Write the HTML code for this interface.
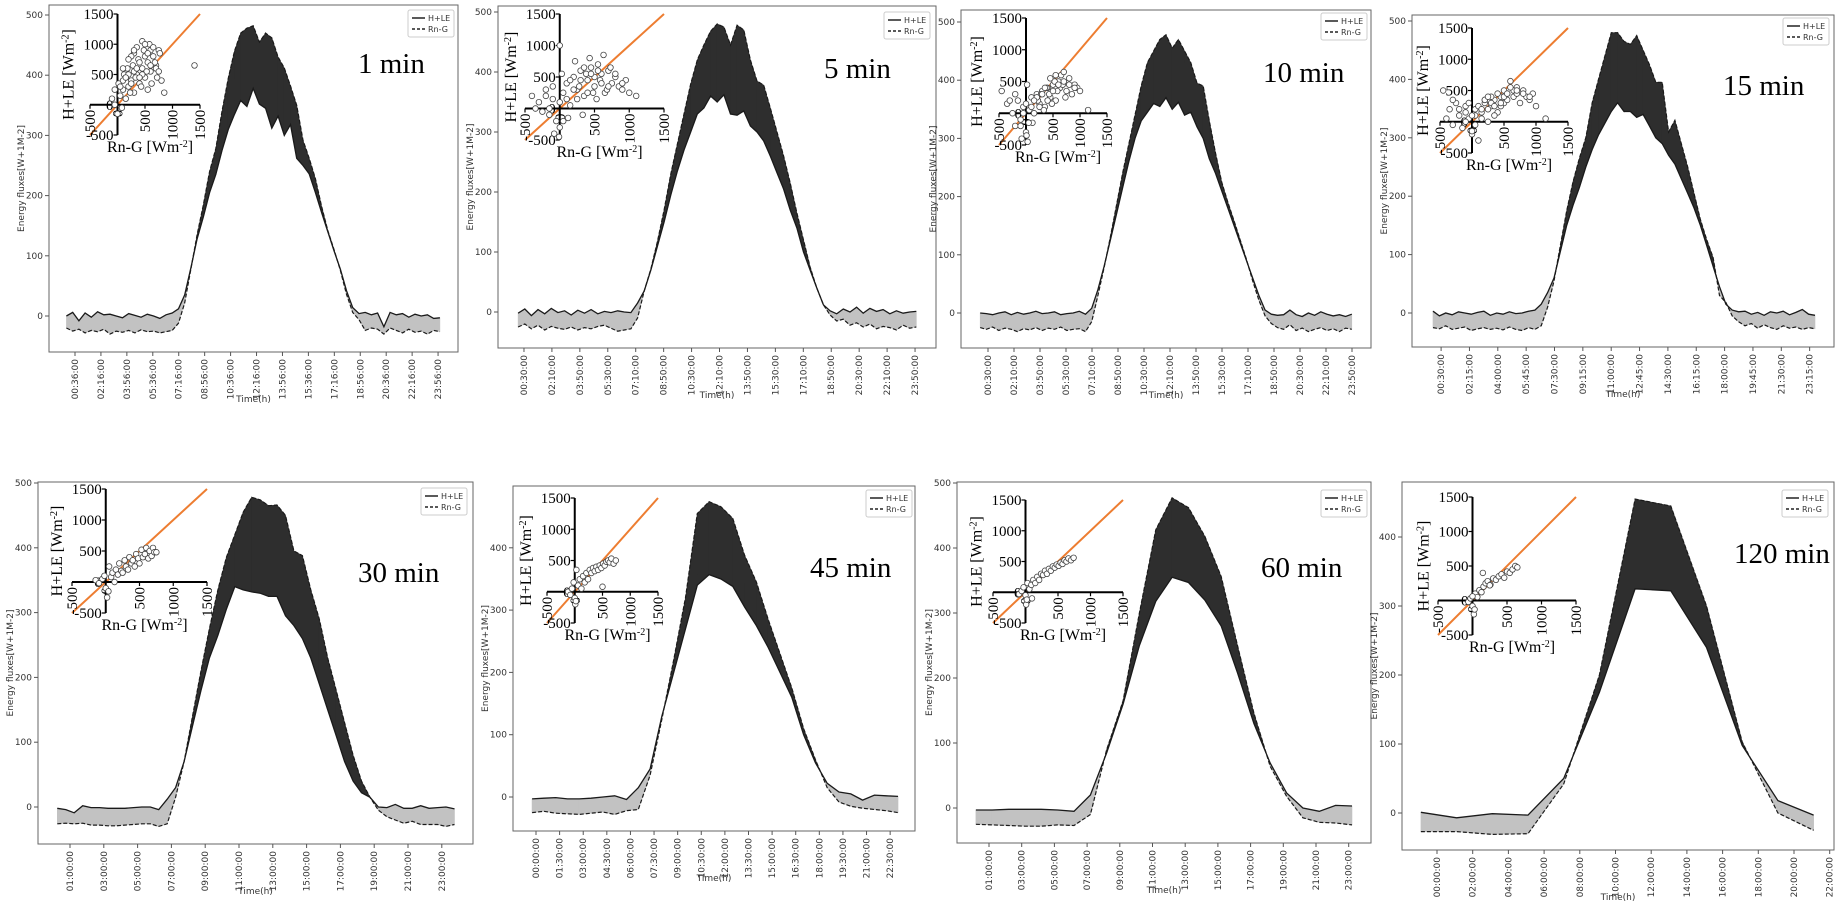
<!DOCTYPE html>
<html><head><meta charset="utf-8"><style>
html,body{margin:0;padding:0;background:#fff;}
svg{display:block;}
</style></head><body>
<svg id="chart" width="1840" height="912" viewBox="0 0 1840 912" xmlns="http://www.w3.org/2000/svg"></svg>
<script>
// ---------- data (W m-2) ----------
const hle1=[0,6,-8,5,-2,7,2,3,0,-3,4,1,-2,3,0,-4,2,5,12,35,80,128,165,205,235,275,310,335,358,348,378,352,345,312,332,300,318,262,250,236,205,172,140,108,78,42,14,4,6,2,5,-18,6,2,4,-2,3,0,2,-4,-3];
const rng1=[-20,-25,-22,-28,-24,-26,-22,-30,-25,-27,-24,-28,-23,-26,-25,-28,-26,-24,-12,22,78,135,185,240,278,340,395,440,470,478,482,455,470,462,430,412,382,350,292,262,228,182,142,110,76,36,6,-6,-24,-20,-22,-30,-20,-24,-28,-22,-27,-25,-30,-24,-26];
const hle2=[-2,5,-6,4,-3,6,-1,2,-5,3,-2,4,-3,1,-1,2,0,-1,15,35,70,110,150,195,235,270,300,330,340,360,350,362,330,328,335,310,300,285,260,232,205,170,140,100,70,40,12,2,-3,5,0,8,-2,6,1,4,-3,2,-2,0,1];
const rng2=[-25,-20,-28,-22,-30,-24,-27,-29,-25,-30,-26,-28,-24,-22,-27,-32,-30,-28,-10,35,72,118,170,230,280,330,380,420,445,468,480,475,445,478,470,420,385,378,340,300,260,215,165,120,75,40,12,-5,-15,-12,-22,-18,-25,-20,-28,-24,-26,-30,-22,-27,-25];
const hle3=[0,-1,-3,0,2,-3,1,-2,0,3,-1,0,2,-3,-1,0,3,-2,8,40,80,125,170,215,260,300,330,345,360,355,370,350,362,340,345,320,300,265,240,210,180,150,120,90,60,30,5,-2,-4,-3,5,-3,-6,0,-4,2,-2,-5,-3,-6,-2];
const rng3=[-25,-28,-24,-30,-26,-28,-32,-27,-29,-25,-30,-26,-28,-24,-30,-28,-27,-32,-15,30,78,130,185,240,290,340,390,430,450,470,478,455,470,450,430,395,390,330,275,225,190,158,125,92,55,22,-5,-18,-25,-28,-20,-30,-26,-32,-28,-25,-30,-27,-32,-26,-28];
const hle4=[3,-5,0,-3,2,0,-2,1,3,-4,0,-2,2,-1,0,3,5,15,35,60,105,150,185,215,250,280,305,325,345,360,345,345,335,340,320,300,290,270,255,230,205,180,150,115,80,45,15,5,2,3,-2,1,-4,2,0,3,-3,1,6,-2,-4];
const rng4=[-25,-27,-22,-28,-26,-24,-30,-27,-25,-28,-26,-29,-24,-28,-30,-25,-28,-22,10,55,115,175,225,265,300,360,400,440,480,480,465,460,475,450,425,395,395,310,330,290,250,205,160,125,95,30,18,-5,-15,-22,-18,-26,-20,-25,-28,-22,-26,-24,-28,-25,-27];
const hle5=[-2,-4,-9,2,-1,-1,-2,-2,-2,-1,0,0,-4,12,30,70,125,180,230,265,305,340,335,332,330,325,325,295,280,260,230,190,150,110,70,40,22,15,0,-1,4,-2,-2,2,-2,-1,0,-3];
const rng5=[-26,-25,-26,-25,-28,-28,-29,-29,-28,-27,-26,-26,-30,-26,15,70,140,210,275,335,385,420,455,478,474,465,466,450,395,388,335,290,230,180,130,80,40,15,-5,-15,-20,-25,-22,-27,-27,-27,-30,-27];
const hle6=[-3,-2,-1,-3,-3,-2,0,2,-4,15,45,130,200,270,340,357,350,338,305,275,240,200,160,100,55,22,8,5,-5,3,2,1];
const rng6=[-25,-23,-26,-27,-28,-26,-24,-28,-22,-20,35,125,220,320,455,474,466,447,388,345,285,230,175,110,60,15,-8,-15,-18,-20,-22,-25];
const hle7=[-3,-3,-2,-2,-2,-3,-5,20,85,160,250,318,355,347,320,280,208,130,69,23,0,-5,4,3];
const rng7=[-25,-26,-27,-28,-28,-26,-27,-10,90,165,300,428,477,462,418,356,250,146,64,18,-15,-22,-23,-26];
const hle8=[1,-7,-1,-3,50,175,325,322,240,98,18,-3];
const rng8=[-27,-27,-31,-30,42,200,455,445,300,103,0,-25];
// scatter insets (Rn-G, H+LE)
const scx1=[-50,0,50,100,150,200,250,300,350,400,450,500,550,600,650,700,750,800,-100,20,80,120,180,230,280,330,380,430,480,530,580,620,680,720,770,850,300,450,550,1400,350,250,600,500,150,100,200,300,400,500,600,700,50,150,250,350,450,550,650,750,-50,100,200,300,400];
const scy1=[0,-150,150,250,100,300,400,200,500,350,600,450,700,550,800,650,900,400,100,350,-50,500,600,200,650,450,750,300,900,550,1000,350,700,450,850,200,850,1050,250,650,950,800,900,1000,450,400,500,550,700,800,650,600,300,450,350,600,500,850,950,550,250,600,750,900,450];
const scx2=[-400,-300,-200,-150,-100,-50,0,0,50,100,150,200,250,300,350,400,450,500,550,600,650,700,750,800,850,900,950,1000,1100,-250,-80,30,120,220,330,430,530,630,730,-10,380,480,580,680,280,-350,-200,-100,0,100,200,300,400,500,600,700,800,900,-150,50,150,250,350,450,550];
const scy2=[200,100,300,0,150,-200,-300,1000,250,400,50,500,300,600,200,450,650,350,700,550,250,600,400,500,350,300,450,250,200,-50,-400,550,-150,750,-100,800,150,850,650,-450,550,250,450,300,350,0,200,350,100,150,300,450,250,500,400,350,550,400,-100,-200,450,150,650,550,600];
const scx3=[-450,-350,-250,-150,-100,-50,0,30,60,100,150,200,250,300,350,400,450,500,550,600,650,700,750,800,850,900,950,1000,1150,-200,-80,20,120,220,330,430,530,630,730,10,280,480,580,680,380,-300,-200,-100,0,50,100,200,300,400,500,600,700,800,900,-50,150,250,350,450,550];
const scy3=[350,150,0,200,-100,100,-300,-450,50,250,0,300,150,350,100,400,250,450,200,500,600,650,350,550,300,450,400,350,50,-200,-400,450,-150,200,50,300,500,400,250,-350,300,150,350,450,400,200,300,-200,150,-150,100,250,300,200,350,450,500,450,400,0,200,100,400,550,600];
const scx4=[-450,-400,-350,-300,-250,-200,-150,-100,-50,0,50,100,150,200,250,300,350,400,450,500,550,600,650,700,750,800,850,900,950,1000,1150,-100,0,50,150,250,350,450,550,650,300,500,700,200,-300,-200,-100,0,100,200,300,400,500,600,700,800,900,-50,50,150,250,350,450,550];
const scy4=[500,50,200,-50,300,100,-100,250,50,-200,200,-300,150,300,0,250,350,150,400,300,450,650,400,550,300,500,400,350,450,250,50,0,-150,100,50,200,100,250,350,500,400,500,450,350,350,200,150,100,250,350,300,450,400,550,500,450,400,300,-50,200,400,250,300,450];
const scx5=[-150,-100,-50,-20,0,20,50,80,100,130,150,180,200,230,250,280,300,330,350,380,400,430,450,480,500,530,550,580,600,630,650,680,700,720,750,40];
const scy5=[30,-20,50,100,-100,-250,250,80,150,0,200,120,300,180,150,350,250,200,400,300,350,250,450,380,300,520,400,450,550,380,500,420,550,480,480,-150];
const scx6=[-120,-80,-50,-20,0,10,30,60,90,120,150,180,210,240,270,300,330,360,390,420,450,480,510,540,570,600,630,660,700,740,20,500];
const scy6=[0,-50,50,150,-100,-200,350,100,200,50,250,150,300,200,350,300,380,330,400,350,420,380,450,420,480,500,470,530,450,500,-150,80];
const scx7=[-100,-60,-30,0,10,30,60,90,120,150,180,210,240,270,300,330,360,390,420,450,480,510,540,570,600,630,660,700,740,20,100];
const scy7=[-30,20,80,-50,-200,150,50,120,200,150,250,200,300,280,350,300,380,350,420,400,450,430,480,460,520,500,550,520,560,-120,-100];
const scx8=[-60,-30,0,20,40,70,100,130,160,190,220,260,300,340,380,420,460,500,540,580,620,650,0,150,250,30];
const scy8=[-20,30,-80,-200,100,50,150,120,200,250,280,230,320,300,350,380,330,420,400,450,500,480,60,400,220,-130];
// tick labels
const ticks100a=["00:36:00","02:16:00","03:56:00","05:36:00","07:16:00","08:56:00","10:36:00","12:16:00","13:56:00","15:36:00","17:16:00","18:56:00","20:36:00","22:16:00","23:56:00"];
const ticks100b=["00:30:00","02:10:00","03:50:00","05:30:00","07:10:00","08:50:00","10:30:00","12:10:00","13:50:00","15:30:00","17:10:00","18:50:00","20:30:00","22:10:00","23:50:00"];
const ticks105=["00:30:00","02:15:00","04:00:00","05:45:00","07:30:00","09:15:00","11:00:00","12:45:00","14:30:00","16:15:00","18:00:00","19:45:00","21:30:00","23:15:00"];
const ticksOdd=["01:00:00","03:00:00","05:00:00","07:00:00","09:00:00","11:00:00","13:00:00","15:00:00","17:00:00","19:00:00","21:00:00","23:00:00"];
const ticks90=["00:00:00","01:30:00","03:00:00","04:30:00","06:00:00","07:30:00","09:00:00","10:30:00","12:00:00","13:30:00","15:00:00","16:30:00","18:00:00","19:30:00","21:00:00","22:30:00"];
const ticksEven=["00:00:00","02:00:00","04:00:00","06:00:00","08:00:00","10:00:00","12:00:00","14:00:00","16:00:00","18:00:00","20:00:00","22:00:00"];
const yTicks500=[0,100,200,300,400,500];
const yTicks400=[0,100,200,300,400];
const insetTicks=[-500,0,500,1000,1500];

const NS='http://www.w3.org/2000/svg';
const svg=document.getElementById('chart');
function mk(tag,attrs,parent){const e=document.createElementNS(NS,tag);for(const k in attrs)e.setAttribute(k,attrs[k]);parent.appendChild(e);return e;}
function hm(s){const p=s.split(':');return +p[0]+(+p[1])/60;}

function drawPanel(c){
  const g=mk('g',{},svg);
  
  
  const X=t=>c.a+t*c.b, Y=v=>c.y0-v*c.k;
  const n=Math.min(c.hle.length,c.rng.length);
  const pts=[];
  for(let i=0;i<n;i++)pts.push({x:X(c.t0+i*c.step),h:Y(c.hle[i]),r:Y(c.rng[i]),d:c.rng[i]-c.hle[i]});
  const fg=mk('g',{},g);
  
  
  const col=d=>d>=0?'#2e2e2e':'#c2c2c2';
  function poly(arr,d){const e=mk('polygon',{points:arr.map(p=>p.join(',')).join(' '),fill:col(d),stroke:col(d),'stroke-width':0.6},fg);return e;}
  for(let i=0;i<n-1;i++){
    const p=pts[i],q=pts[i+1];
    if((p.d>=0)===(q.d>=0)){poly([[p.x,p.h],[q.x,q.h],[q.x,q.r],[p.x,p.r]],p.d+q.d);}
    else{const f=p.d/(p.d-q.d);const xm=p.x+f*(q.x-p.x),ym=p.h+f*(q.h-p.h);
      poly([[p.x,p.h],[xm,ym],[p.x,p.r]],p.d);poly([[xm,ym],[q.x,q.h],[q.x,q.r]],q.d);}
  }
  const l1=mk('path',{d:'M'+pts.map(p=>p.x.toFixed(1)+','+p.h.toFixed(1)).join('L'),fill:'none',stroke:'#1a1a1a','stroke-width':1.3},g);
  
  
  const l2=mk('path',{d:'M'+pts.map(p=>p.x.toFixed(1)+','+p.r.toFixed(1)).join('L'),fill:'none',stroke:'#1a1a1a','stroke-width':1.2,'stroke-dasharray':'4,2'},g);
  
  
  const fr=mk('rect',{x:c.L,y:c.T,width:c.R-c.L,height:c.B-c.T,fill:'none',stroke:'#666','stroke-width':1},g);
  
  
  c.yt.forEach(v=>{
    mk('line',{x1:c.L-4,x2:c.L,y1:Y(v),y2:Y(v),stroke:'#555','stroke-width':1},g);
    const t=mk('text',{x:c.L-6,y:Y(v)+3,'text-anchor':'end','font-size':9,fill:'#333','font-family':'DejaVu Sans, sans-serif'},g);
    t.textContent=v;
    
    
  });
  c.xt.forEach(s=>{
    const x=X(hm(s));
    mk('line',{x1:x,x2:x,y1:c.B,y2:c.B+4,stroke:'#555','stroke-width':1},g);
    const t=mk('text',{transform:'translate('+(x+3)+','+(c.B+7)+') rotate(-90)','text-anchor':'end','font-size':9,fill:'#333','font-family':'DejaVu Sans, sans-serif'},g);
    t.textContent=s;
    
    
  });
  const xl=mk('text',{x:(c.L+c.R)/2,y:c.B+50,'text-anchor':'middle','font-size':9,fill:'#333','font-family':'DejaVu Sans, sans-serif'},g);
  xl.textContent='Time(h)';
  
  
  const yl=mk('text',{transform:'translate('+(c.L-25)+','+((c.T+c.B)/2)+') rotate(-90)','text-anchor':'middle','font-size':9,fill:'#333','font-family':'DejaVu Sans, sans-serif'},g);
  yl.textContent='Energy fluxes[W+1M-2]';
  
  
  const lg=mk('g',{},g);
  
  
  mk('rect',{x:c.lx,y:c.ly,width:46,height:27,fill:'#fff',stroke:'#ccc','stroke-width':1,rx:2},lg);
  mk('line',{x1:c.lx+4,x2:c.lx+17,y1:c.ly+8,y2:c.ly+8,stroke:'#222','stroke-width':1.5},lg);
  mk('line',{x1:c.lx+4,x2:c.lx+17,y1:c.ly+19,y2:c.ly+19,stroke:'#222','stroke-width':1.5,'stroke-dasharray':'3,2'},lg);
  const e1=mk('text',{x:c.lx+20,y:c.ly+11,'font-size':8,fill:'#333','font-family':'DejaVu Sans, sans-serif'},lg);
  e1.textContent='H+LE';
  
  
  const e2=mk('text',{x:c.lx+20,y:c.ly+22,'font-size':8,fill:'#333','font-family':'DejaVu Sans, sans-serif'},lg);
  e2.textContent='Rn-G';
  
  
  const bl=mk('text',{x:c.tx,y:c.ty,'font-size':29,fill:'#000','font-family':'Liberation Serif, serif'},g);
  bl.textContent=c.label;
  
  
  const ig=mk('g',{},g);
  
  
  const I=c.inset;
  const ix=v=>I.x0+(v+500)/2000*(I.x1-I.x0), iy=v=>I.y0-(v+500)/2000*(I.y0-I.y1);
  const ol=mk('line',{x1:ix(-500),y1:iy(-500),x2:ix(1500),y2:iy(1500),stroke:'#ED7D31','stroke-width':2},ig);
  
  
  mk('line',{x1:ix(0),x2:ix(0),y1:iy(-500),y2:iy(1500),stroke:'#000','stroke-width':2},ig);
  mk('line',{x1:ix(-500),x2:ix(1500),y1:iy(0),y2:iy(0),stroke:'#000','stroke-width':2},ig);
  const fs=I.fs||15;
  insetTicks.forEach(v=>{
    mk('line',{x1:ix(0)-4,x2:ix(0),y1:iy(v),y2:iy(v),stroke:'#000','stroke-width':1.2},ig);
    mk('line',{x1:ix(v),x2:ix(v),y1:iy(0),y2:iy(0)+4,stroke:'#000','stroke-width':1.2},ig);
    const ty=mk('text',{x:ix(0)-4,y:iy(v)+5,'text-anchor':'end','font-size':fs,fill:'#000','font-family':'Liberation Serif, serif'},ig);
    ty.textContent=v;
    
    
    const tx=mk('text',{transform:'translate('+(ix(v)+5)+','+(iy(0)+5)+') rotate(-90)','text-anchor':'end','font-size':fs,fill:'#000','font-family':'Liberation Serif, serif'},ig);
    tx.textContent=v;
    
    
  });
  for(let i=0;i<Math.min(c.sx.length,c.sy.length);i++){
    const pt=mk('circle',{cx:ix(c.sx[i]),cy:iy(c.sy[i]),r:2.8,fill:'#fff',stroke:'#444','stroke-width':0.8},ig);
    
    
  }
  const it1=mk('text',{transform:'translate('+(ix(0)-44)+','+((iy(-500)+iy(1500))/2)+') rotate(-90)','text-anchor':'middle','font-size':fs+1,fill:'#000','font-family':'Liberation Serif, serif'},ig);
  it1.innerHTML='H+LE [Wm<tspan baseline-shift="super" font-size="'+(fs-5)+'">-2</tspan>]';
  
  
  const it2=mk('text',{x:ix(500)+5,y:iy(-500)+17,'text-anchor':'middle','font-size':fs+1,fill:'#000','font-family':'Liberation Serif, serif'},ig);
  it2.innerHTML='Rn-G [Wm<tspan baseline-shift="super" font-size="'+(fs-5)+'">-2</tspan>]';
  
  
}

drawPanel({id:'1min',L:49,R:458,T:5,B:352,y0:316,k:0.602,a:65.66,b:15.56,t0:0.05,step:0.4,hle:hle1,rng:rng1,yt:yTicks500,xt:ticks100a,lx:408,ly:10,tx:358,ty:73,label:'1 min',inset:{x0:90,x1:200,y0:135,y1:14},sx:scx1,sy:scy1});
drawPanel({id:'5min',L:498,R:936,T:6,B:348,y0:312,k:0.6,a:515.6,b:16.76,t0:0.15,step:0.396,hle:hle2,rng:rng2,yt:yTicks500,xt:ticks100b,lx:884,ly:12,tx:824,ty:78,label:'5 min',inset:{x0:525,x1:664,y0:140,y1:14},sx:scx2,sy:scy2});
drawPanel({id:'10min',L:961,R:1371,T:10,B:348,y0:313,k:0.582,a:980.2,b:15.6,t0:0,step:0.397,hle:hle3,rng:rng3,yt:yTicks500,xt:ticks100b,lx:1321,ly:13,tx:1263,ty:82,label:'10 min',inset:{x0:999,x1:1107,y0:145,y1:18},sx:scx3,sy:scy3});
drawPanel({id:'15min',L:1412,R:1834,T:15,B:347,y0:313,k:0.584,a:1433,b:16.2,t0:0,step:0.393,hle:hle4,rng:rng4,yt:yTicks500,xt:ticks105,lx:1783,ly:18,tx:1723,ty:95,label:'15 min',inset:{x0:1440,x1:1568,y0:153,y1:28},sx:scx4,sy:scy4});
drawPanel({id:'30min',L:38,R:473,T:482,B:844,y0:807,k:0.648,a:53.1,b:16.9,t0:0.25,step:0.5,hle:hle5,rng:rng5,yt:yTicks500,xt:ticksOdd,lx:421,ly:488,tx:358,ty:582,label:'30 min',inset:{x0:72,x1:207,y0:613,y1:489},sx:scx5,sy:scy5});
drawPanel({id:'45min',L:513,R:915,T:486,B:831,y0:797,k:0.623,a:536,b:15.74,t0:-0.25,step:0.75,hle:hle6,rng:rng6,yt:yTicks400,xt:ticks90,lx:866,ly:490,tx:810,ty:577,label:'45 min',inset:{x0:547,x1:658,y0:623,y1:498},sx:scx6,sy:scy6});
drawPanel({id:'60min',L:957,R:1371,T:482,B:843,y0:808,k:0.65,a:972.65,b:16.35,t0:0.2,step:1,hle:hle7,rng:rng7,yt:yTicks500,xt:ticksOdd,lx:1321,ly:490,tx:1261,ty:577,label:'60 min',inset:{x0:993,x1:1123,y0:623,y1:500},sx:scx7,sy:scy7});
drawPanel({id:'120min',L:1402,R:1834,T:482,B:850,y0:813,k:0.69,a:1437,b:17.85,t0:-0.9,step:2,hle:hle8,rng:rng8,yt:yTicks400,xt:ticksEven,lx:1782,ly:490,tx:1734,ty:563,label:'120 min',inset:{x0:1438,x1:1576,y0:635,y1:497},sx:scx8,sy:scy8});
</script>
</body></html>
